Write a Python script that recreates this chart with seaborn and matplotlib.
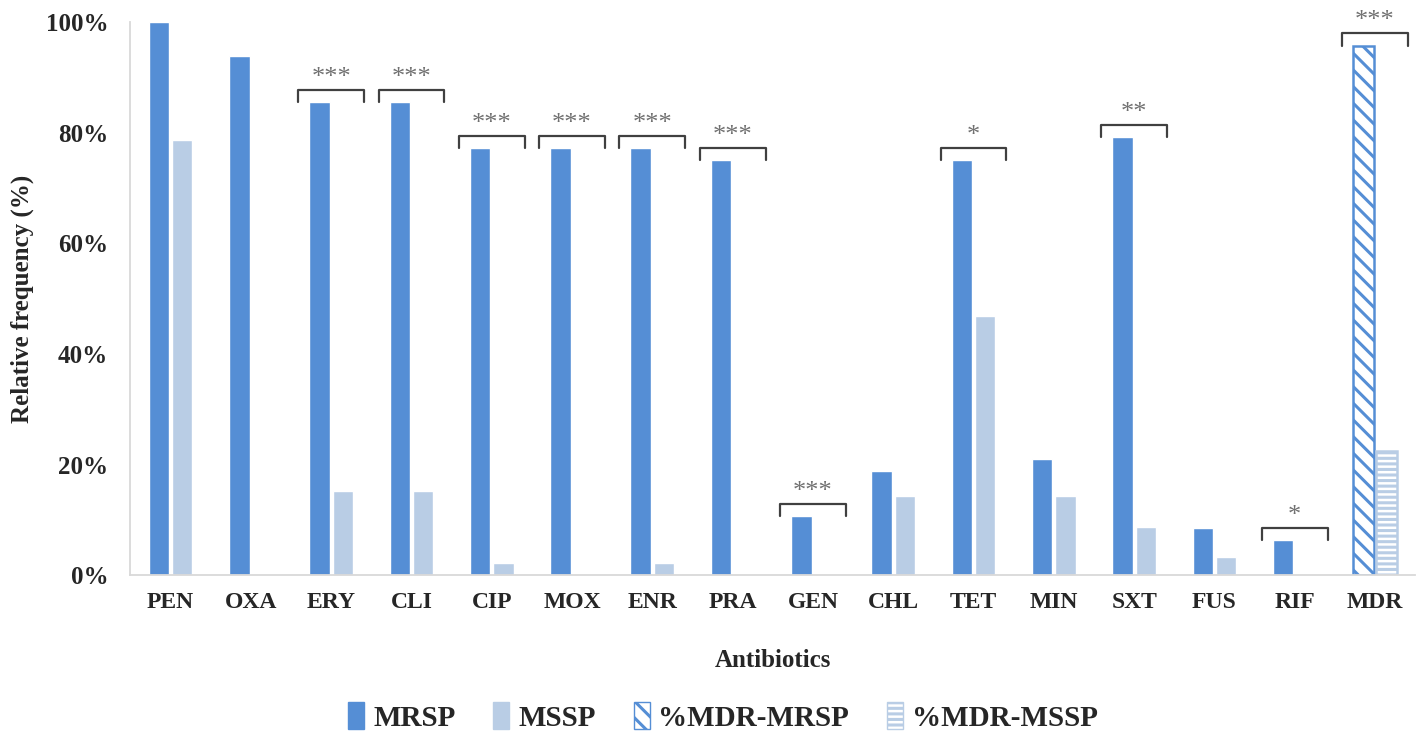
import pandas as pd
import matplotlib
matplotlib.use('Agg')
import matplotlib.pyplot as plt
import seaborn as sns
from matplotlib.patches import Patch

# data
antibiotics = ['PEN', 'OXA', 'ERY', 'CLI', 'CIP', 'MOX', 'ENR', 'PRA',
               'GEN', 'CHL', 'TET', 'MIN', 'SXT', 'FUS', 'RIF', 'MDR']
mrsp = [100, 93.9, 85.5, 85.5, 77.2, 77.2, 77.2, 75.0,
        10.6, 18.9, 75.0, 21.0, 79.2, 8.5, 6.3, 95.8]
mssp = [78.7, 0, 15.2, 15.2, 2.2, 0, 2.2, 0,
        0, 14.3, 46.8, 14.3, 8.7, 3.3, 0, 22.4]
signif = ['', '', '***', '***', '***', '***', '***', '***',
          '***', '', '*', '', '**', '', '*', '***']

groups = ['MRSP', 'MSSP']
legend_labels = ['MRSP', 'MSSP', '%MDR-MRSP', '%MDR-MSSP']

c_mrsp = '#558ED5'
c_mssp = '#B9CDE5'

df = pd.DataFrame({
    'Antibiotic': antibiotics * 2,
    'Group': ['MRSP'] * len(antibiotics) + ['MSSP'] * len(antibiotics),
    'Freq': mrsp + mssp,
})

sns.set_style('white')
plt.rcParams['font.family'] = ['Liberation Serif', 'DejaVu Serif']
plt.rcParams['hatch.linewidth'] = 2.2

fig = plt.figure(figsize=(14.18, 7.43), dpi=100)
ax = fig.add_axes([0.092, 0.226, 0.906, 0.744])

sns.barplot(data=df, x='Antibiotic', y='Freq', hue='Group', hue_order=groups,
            order=antibiotics, palette={'MRSP': c_mrsp, 'MSSP': c_mssp},
            saturation=1, width=0.58, gap=0.12, legend=False, ax=ax)

# MDR bars get hatching instead of solid fill
last = len(antibiotics) - 1
p1 = ax.containers[0][last]
p1.set_facecolor('white')
p1.set_edgecolor(c_mrsp)
p1.set_hatch('\\\\')
p1.set_linewidth(1.8)
p2 = ax.containers[1][last]
p2.set_facecolor('white')
p2.set_edgecolor(c_mssp)
p2.set_hatch('---')
p2.set_linewidth(1.8)

# significance brackets
for i, s in enumerate(signif):
    if not s:
        continue
    top = max(mrsp[i], mssp[i]) + 2.2
    ax.plot([i - 0.41, i - 0.41, i + 0.41, i + 0.41],
            [top - 2.2, top, top, top - 2.2],
            color='#404040', lw=1.6, clip_on=False)
    ax.text(i, top + 0.2, s, ha='center', va='bottom', fontsize=19,
            color='#707070', clip_on=False)

ax.set_ylim(0, 100)
ax.set_xlim(-0.5, len(antibiotics) - 0.5)
ax.set_yticks([0, 20, 40, 60, 80, 100])
ax.set_yticklabels([f'{v}%' for v in [0, 20, 40, 60, 80, 100]])
ax.tick_params(axis='x', length=0, labelsize=17, pad=12)
ax.tick_params(axis='y', length=0, labelsize=18, pad=16)
for lbl in ax.get_xticklabels() + ax.get_yticklabels():
    lbl.set_fontweight('bold')

ax.set_xlabel('Antibiotics', fontsize=18, fontweight='bold', labelpad=26)
ax.set_ylabel('')
fig.text(0.016, 0.598, 'Relative frequency (%)', rotation=90, ha='center', va='center',
         fontsize=18, fontweight='bold')

sns.despine(ax=ax)
for side in ['left', 'bottom']:
    ax.spines[side].set_color('#D9D9D9')
    ax.spines[side].set_linewidth(1.3)

handles = [
    Patch(facecolor=c_mrsp, edgecolor=c_mrsp, label=legend_labels[0]),
    Patch(facecolor=c_mssp, edgecolor=c_mssp, label=legend_labels[1]),
    Patch(facecolor='white', edgecolor=c_mrsp, hatch='\\\\', label=legend_labels[2]),
    Patch(facecolor='white', edgecolor=c_mssp, hatch='---', label=legend_labels[3]),
]
fig.legend(handles=handles, loc='center', bbox_to_anchor=(0.51, 0.035), ncol=4,
           frameon=False, prop={'weight': 'bold', 'size': 21},
           handlelength=0.55, handleheight=1.0, handletextpad=0.3, columnspacing=1.3)

fig.savefig('out.png', dpi=100)
